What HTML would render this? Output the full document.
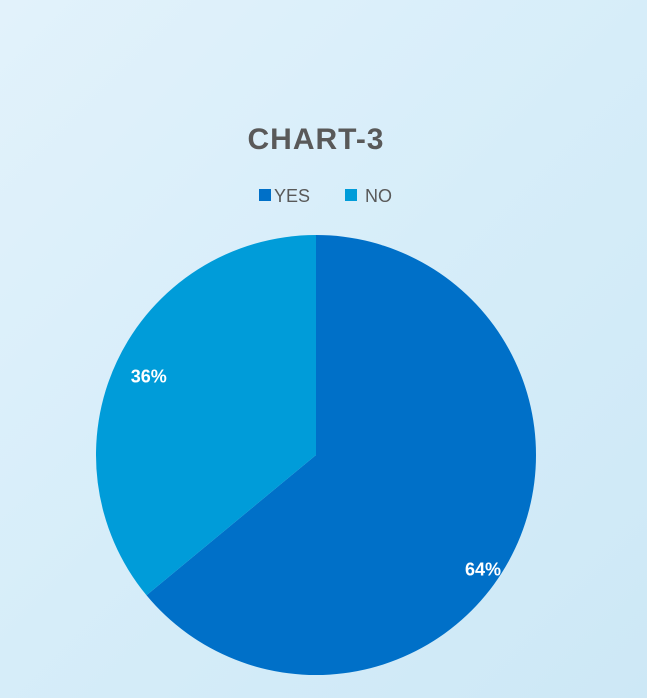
<!DOCTYPE html>
<html><head><meta charset="utf-8"><style>
html,body{margin:0;padding:0}
body{width:647px;height:698px;overflow:hidden;background:linear-gradient(135deg,#e2f2fb 0%,#d6edf9 50%,#cde8f6 100%);font-family:"Liberation Sans",sans-serif}
svg{display:block}
</style></head><body>
<svg width="647" height="698">
<text x="316" y="149" text-anchor="middle" font-size="30" font-weight="bold" fill="#595959" letter-spacing="1">CHART-3</text>
<g>
<rect x="259" y="189" width="12" height="12" fill="#0070c8"/>
<text x="274" y="202" font-size="18" fill="#595959">YES</text>
<rect x="345" y="189" width="12" height="12" fill="#009cd9"/>
<text x="365" y="202" font-size="18" fill="#595959">NO</text>
</g>
<g id="slices"></g>
</svg>
<script>
const categories=["YES","NO"];
const values=[64,36];
const colors=["#0070c8","#009cd9"];
const cx=316,cy=455,r=220;
const g=document.getElementById('slices');
const ns="http://www.w3.org/2000/svg";
const total=values.reduce((a,b)=>a+b,0);
let start=0;
function pt(a,rr){return [cx+rr*Math.sin(a),cy-rr*Math.cos(a)];}
values.forEach((v,i)=>{
  const a0=start,a1=start+v/total*2*Math.PI;
  const p0=pt(a0,r),p1=pt(a1,r);
  const large=(a1-a0)>Math.PI?1:0;
  const path=document.createElementNS(ns,'path');
  path.setAttribute('d',`M${cx},${cy}L${p0[0]},${p0[1]}A${r},${r} 0 ${large} 1 ${p1[0]},${p1[1]}Z`);
  path.setAttribute('fill',colors[i]);
  
  
  g.appendChild(path);
  const big=v/total>0.5;
  const la=a0+(a1-a0)*(big?0.54:0.5);
  const lr=r*(big?0.92:0.84);
  const lp=pt(la,lr);
  const t=document.createElementNS(ns,'text');
  t.setAttribute('x',lp[0]);t.setAttribute('y',lp[1]+6);
  t.setAttribute('text-anchor','middle');t.setAttribute('font-size','18');
  t.setAttribute('font-weight','bold');t.setAttribute('fill','#ffffff');
  t.textContent=v+'%';
  
  
  g.appendChild(t);
  start=a1;
});
</script>
</body></html>
